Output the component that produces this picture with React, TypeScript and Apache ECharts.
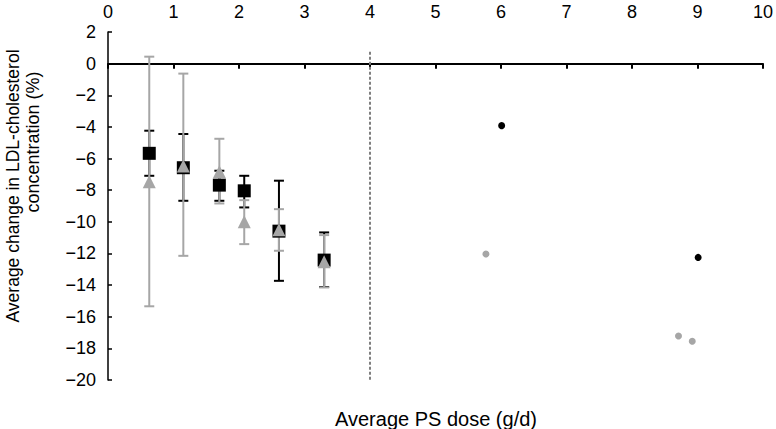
import React, { useEffect, useRef } from "react";
import * as echarts from "echarts";

const xTicks = [0, 1, 2, 3, 4, 5, 6, 7, 8, 9, 10];
const doseX = [0.63, 1.15, 1.7, 2.08, 2.61, 3.3];
const blackMean = [-5.67, -6.58, -7.68, -8.04, -10.59, -12.42];
const blackLow = [-7.09, -8.67, -8.67, -9.09, -13.73, -14.12];
const blackHigh = [-4.24, -4.45, -6.77, -7.09, -7.4, -10.67];
const grayMean = [-7.47, -6.47, -6.83, -10.0, -10.5, -12.53];
const grayLow = [-15.34, -12.15, -8.84, -11.41, -11.83, -14.15];
const grayHigh = [0.44, -0.63, -4.75, -8.63, -9.2, -10.84];
const blackDotX = [6.01, 9.01];
const blackDotY = [-3.92, -12.25];
const grayDotX = [5.77, 8.71, 8.92];
const grayDotY = [-12.03, -17.22, -17.55];
const cutoffX = 4;
const cutoffY = [0.75, -20];

const FONT = '"Liberation Sans", Arial, Helvetica, sans-serif';
const GRAY = "#a6a6a6";

function errorSeries(low: number[], high: number[], color: string, z: number) {
  return {
    type: "custom",
    xAxisIndex: 0,
    yAxisIndex: 0,
    z,
    data: doseX.map((x, i) => [x, low[i], high[i]]),
    renderItem: (params: any, api: any) => {
      const x = api.value(0);
      const lo = api.coord([x, api.value(1)]);
      const hi = api.coord([x, api.value(2)]);
      const hw = 5;
      const style = { stroke: color, lineWidth: 2 };
      return {
        type: "group",
        children: [
          { type: "line", shape: { x1: lo[0], y1: lo[1], x2: hi[0], y2: hi[1] }, style },
          { type: "line", shape: { x1: lo[0] - hw, y1: lo[1], x2: lo[0] + hw, y2: lo[1] }, style },
          { type: "line", shape: { x1: hi[0] - hw, y1: hi[1], x2: hi[0] + hw, y2: hi[1] }, style },
        ],
      };
    },
  };
}

export default function App() {
  const ref = useRef<HTMLDivElement>(null);
  useEffect(() => {
    if (!ref.current) return;
    const chart = echarts.init(ref.current, null, { renderer: "svg" });
    const minus = (v: number) => String(v).replace("-", "\u2212");
    chart.setOption({
      animation: false,
      backgroundColor: "#fff",
      grid: { left: 108, right: 12.5, top: 32, bottom: 49 },
      xAxis: [
        {
          type: "value",
          position: "top",
          min: xTicks[0],
          max: xTicks[xTicks.length - 1],
          interval: 1,
          axisLine: { show: false, onZero: false },
          axisTick: { show: false },
          splitLine: { show: false },
          axisLabel: { fontSize: 18, color: "#000", fontFamily: FONT, margin: 11 },
        },
        {
          type: "value",
          position: "bottom",
          min: xTicks[0],
          max: xTicks[xTicks.length - 1],
          interval: 1,
          axisLine: { show: true, onZero: true, lineStyle: { color: "#000", width: 2 } },
          axisTick: { show: true, length: 5, lineStyle: { color: "#000", width: 2 } },
          axisLabel: { show: false },
          splitLine: { show: false },
        },
      ],
      yAxis: {
        type: "value",
        min: -20,
        max: 2,
        interval: 2,
        axisLine: { show: true, onZero: false, lineStyle: { color: "#000", width: 1.5 } },
        axisTick: { show: true, inside: true, length: 4, lineStyle: { color: "#000", width: 1.5 } },
        splitLine: { show: false },
        axisLabel: { fontSize: 18, color: "#000", fontFamily: FONT, margin: 12, formatter: minus },
      },
      graphic: [
        {
          type: "text",
          x: 13,
          y: 186,
          rotation: Math.PI / 2,
          style: {
            text: "Average change in LDL-cholesterol",
            fontSize: 17.5,
            fontFamily: FONT,
            fill: "#000",
            textAlign: "center",
            textVerticalAlign: "middle",
          },
        },
        {
          type: "text",
          x: 33,
          y: 142,
          rotation: Math.PI / 2,
          style: {
            text: "concentration (%)",
            fontSize: 18,
            fontFamily: FONT,
            fill: "#000",
            textAlign: "center",
            textVerticalAlign: "middle",
          },
        },
        {
          type: "text",
          x: 436,
          y: 419,
          style: {
            text: "Average PS dose (g/d)",
            fontSize: 20,
            fontFamily: FONT,
            fill: "#000",
            textAlign: "center",
            textVerticalAlign: "middle",
          },
        },
      ],
      series: [
        {
          type: "line",
          xAxisIndex: 0,
          data: cutoffY.map((y) => [cutoffX, y]),
          symbol: "none",
          lineStyle: { color: "#7f7f7f", width: 2, type: [3, 2] },
          z: 1,
        },
        errorSeries(blackLow, blackHigh, "#000", 2),
        errorSeries(grayLow, grayHigh, GRAY, 3),
        {
          type: "scatter",
          xAxisIndex: 0,
          data: doseX.map((x, i) => [x, blackMean[i]]),
          symbol: "rect",
          symbolSize: 13,
          itemStyle: { color: "#000", opacity: 1 },
          z: 4,
        },
        {
          type: "scatter",
          xAxisIndex: 0,
          data: doseX.map((x, i) => [x, grayMean[i]]),
          symbol: "triangle",
          symbolSize: 13,
          itemStyle: { color: GRAY, opacity: 1 },
          z: 5,
        },
        {
          type: "scatter",
          xAxisIndex: 0,
          data: blackDotX.map((x, i) => [x, blackDotY[i]]),
          symbol: "circle",
          symbolSize: 7,
          itemStyle: { color: "#000", opacity: 1 },
          z: 6,
        },
        {
          type: "scatter",
          xAxisIndex: 0,
          data: grayDotX.map((x, i) => [x, grayDotY[i]]),
          symbol: "circle",
          symbolSize: 7,
          itemStyle: { color: GRAY, opacity: 1 },
          z: 6,
        },
      ],
    });
    return () => chart.dispose();
  }, []);
  return <div ref={ref} style={{ width: 776, height: 429, position: "absolute", left: 0, top: 0 }} />;
}
